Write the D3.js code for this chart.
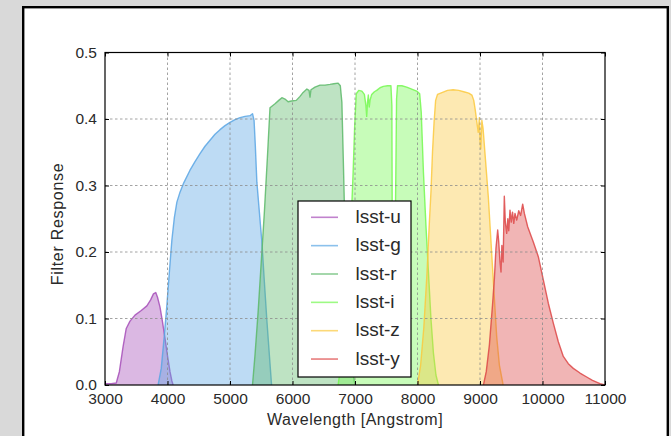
<!DOCTYPE html>
<html>
<head>
<meta charset="utf-8">
<script src="https://cdnjs.cloudflare.com/ajax/libs/d3/7.8.5/d3.min.js"></script>
<style>
    body { margin: 0; background: #d9d9d9; }
    svg { display: block; font-family: "Liberation Sans", Arial, sans-serif; }
</style>
</head>
<body>
<svg id="chart" width="671" height="436"></svg>
<script>
// Filter names, in legend order
const bandNames = ['lsst-u', 'lsst-g', 'lsst-r', 'lsst-i', 'lsst-z', 'lsst-y'];

// [wavelength (Angstrom), response]
const uBand = [
    [3000, 0.002], [3100, 0.002], [3180, 0.003], [3230, 0.02], [3290, 0.058], [3340, 0.085],
    [3400, 0.096], [3480, 0.105], [3580, 0.112], [3670, 0.119], [3730, 0.128], [3775, 0.137],
    [3812, 0.139], [3840, 0.132], [3880, 0.117], [3920, 0.095], [3960, 0.07], [4000, 0.044],
    [4040, 0.02], [4070, 0.006], [4090, 0]
];
const gBand = [
    [3850, 0], [3900, 0.025], [3950, 0.075], [3990, 0.12], [4030, 0.17], [4070, 0.218],
    [4110, 0.252], [4150, 0.275], [4200, 0.29], [4260, 0.304], [4360, 0.323], [4440, 0.336],
    [4520, 0.348], [4600, 0.359], [4680, 0.368], [4760, 0.377], [4840, 0.384], [4920, 0.39],
    [5000, 0.395], [5080, 0.399], [5160, 0.402], [5240, 0.404], [5320, 0.405], [5360, 0.408],
    [5385, 0.398], [5405, 0.36], [5430, 0.305], [5470, 0.26], [5510, 0.215], [5550, 0.155],
    [5590, 0.097], [5630, 0.045], [5665, 0]
];
const rBand = [
    [5360, 0], [5400, 0.045], [5450, 0.11], [5500, 0.185], [5550, 0.26], [5600, 0.345],
    [5640, 0.417], [5720, 0.423], [5780, 0.428], [5830, 0.432], [5880, 0.43], [5930, 0.426],
    [5980, 0.427], [6060, 0.428], [6120, 0.434], [6170, 0.44], [6230, 0.445], [6265, 0.443],
    [6280, 0.433], [6295, 0.444], [6360, 0.448], [6440, 0.451], [6520, 0.451], [6600, 0.452],
    [6660, 0.453], [6730, 0.454], [6765, 0.45], [6790, 0.425], [6815, 0.33], [6840, 0.23],
    [6870, 0.14], [6910, 0.07], [6950, 0.03], [6990, 0.005], [7010, 0]
];
const iBand = [
    [6730, 0], [6790, 0.04], [6850, 0.1], [6900, 0.17], [6940, 0.25], [6970, 0.32],
    [6995, 0.39], [7020, 0.438], [7060, 0.443], [7110, 0.442], [7150, 0.437], [7175, 0.42],
    [7187, 0.404], [7200, 0.425], [7213, 0.436], [7228, 0.418], [7240, 0.428], [7267, 0.437],
    [7310, 0.441], [7347, 0.443], [7400, 0.447], [7453, 0.449], [7520, 0.45], [7575, 0.45],
    [7590, 0.42], [7600, 0.12], [7630, 0.1], [7665, 0.43], [7680, 0.45], [7750, 0.45],
    [7827, 0.448], [7907, 0.445], [7987, 0.442], [8035, 0.438], [8060, 0.41], [8095, 0.32],
    [8135, 0.24], [8175, 0.17], [8215, 0.1], [8255, 0.048], [8295, 0.015], [8335, 0]
];
const zBand = [
    [8000, 0], [8050, 0.03], [8100, 0.085], [8150, 0.165], [8190, 0.245], [8215, 0.29],
    [8240, 0.35], [8265, 0.395], [8290, 0.428], [8320, 0.437], [8400, 0.44], [8480, 0.443],
    [8570, 0.444], [8660, 0.443], [8740, 0.441], [8820, 0.439], [8870, 0.436], [8900, 0.428],
    [8925, 0.413], [8950, 0.395], [8972, 0.38], [8990, 0.402], [9002, 0.365], [9012, 0.355],
    [9030, 0.398], [9050, 0.385], [9080, 0.348], [9133, 0.283], [9187, 0.198], [9230, 0.13],
    [9267, 0.073], [9310, 0.03], [9370, 0]
];
const yBand = [
    [9055, 0], [9100, 0.02], [9150, 0.06], [9200, 0.12], [9230, 0.16], [9255, 0.205],
    [9283, 0.233], [9300, 0.215], [9320, 0.185], [9336, 0.17], [9350, 0.21], [9370, 0.185],
    [9389, 0.284], [9405, 0.245], [9427, 0.228], [9445, 0.25], [9460, 0.232], [9480, 0.263],
    [9500, 0.245], [9520, 0.26], [9540, 0.243], [9560, 0.258], [9587, 0.248], [9620, 0.262],
    [9650, 0.255], [9683, 0.272], [9710, 0.258], [9763, 0.238], [9810, 0.226], [9853, 0.215],
    [9933, 0.193], [10013, 0.158], [10093, 0.123], [10173, 0.093], [10253, 0.065],
    [10333, 0.043], [10413, 0.032], [10493, 0.025], [10600, 0.018], [10707, 0.012],
    [10800, 0.007], [10920, 0.002], [11000, 0]
];
const bandData = [uBand, gBand, rBand, iBand, zBand, yBand];

// Axis ticks
const xTicks = [3000, 4000, 5000, 6000, 7000, 8000, 9000, 10000, 11000];
const yTicks = [0.0, 0.1, 0.2, 0.3, 0.4, 0.5];

// Styles
const bandColors = ['#a64db8', '#5aa6e4', '#5cb868', '#74f850', '#fbc93e', '#dd4646'];

function render() {
    const svg = d3.select('#chart');
    const plot = { left: 105, right: 605, top: 52.5, bottom: 385 };

    const x = d3.scaleLinear().domain([3000, 11000]).range([plot.left, plot.right]);
    const y = d3.scaleLinear().domain([0, 0.5]).range([plot.bottom, plot.top]);

    // Figure frame
    svg.append('rect')
        .attr('x', 0).attr('y', 0).attr('width', 671).attr('height', 436)
        .attr('fill', '#d9d9d9');
    svg.append('rect')
        .attr('x', 23.2).attr('y', 7.2).attr('width', 644.6).attr('height', 440)
        .attr('fill', '#ffffff')
        .attr('stroke', '#000')
        .attr('stroke-width', 2.4);

    svg.append('defs').append('clipPath').attr('id', 'plot-clip')
        .append('rect')
        .attr('x', plot.left).attr('y', plot.top)
        .attr('width', plot.right - plot.left).attr('height', plot.bottom - plot.top);

    const area = d3.area()
        .x(d => x(d[0]))
        .y0(y(0))
        .y1(d => y(d[1]));
    const line = d3.line()
        .x(d => x(d[0]))
        .y(d => y(d[1]));

    const bands = svg.append('g').attr('clip-path', 'url(#plot-clip)');
    bandData.forEach((data, i) => {
        bands.append('path')
            .datum(data)
            .attr('d', area)
            .attr('fill', bandColors[i])
            .attr('fill-opacity', 0.4);
        bands.append('path')
            .datum(data)
            .attr('d', line)
            .attr('fill', 'none')
            .attr('stroke', bandColors[i])
            .attr('stroke-opacity', 0.85)
            .attr('stroke-width', 1.4)
            .attr('stroke-linejoin', 'round');
    });

    // Grid (drawn over the fills)
    const grid = svg.append('g')
        .attr('stroke', '#8c8c8c')
        .attr('stroke-width', 0.8)
        .attr('stroke-dasharray', '2.5,2.5');
    grid.selectAll('.gx')
        .data(xTicks.slice(1, -1))
        .enter().append('line')
        .attr('x1', d => x(d)).attr('x2', d => x(d))
        .attr('y1', plot.top).attr('y2', plot.bottom);
    grid.selectAll('.gy')
        .data(yTicks.slice(1, -1))
        .enter().append('line')
        .attr('x1', plot.left).attr('x2', plot.right)
        .attr('y1', d => y(d)).attr('y2', d => y(d));

    // Axes with inward ticks
    const tickFont = g => g.selectAll('text')
        .attr('font-size', '15.5px')
        .attr('fill', '#2a2a2a')
        .attr('font-family', '"Liberation Sans", Arial, sans-serif');

    svg.append('g')
        .attr('transform', `translate(0,${plot.bottom})`)
        .call(d3.axisBottom(x).tickValues(xTicks).tickFormat(d3.format('d'))
            .tickSizeInner(-4).tickSizeOuter(0).tickPadding(8))
        .call(g => g.select('.domain').remove())
        .call(tickFont);
    svg.append('g')
        .attr('transform', `translate(${plot.left},0)`)
        .call(d3.axisLeft(y).tickValues(yTicks).tickFormat(d3.format('.1f'))
            .tickSizeInner(-4).tickSizeOuter(0).tickPadding(8))
        .call(g => g.select('.domain').remove())
        .call(tickFont);
    svg.append('g')
        .attr('transform', `translate(0,${plot.top})`)
        .call(d3.axisTop(x).tickValues(xTicks).tickFormat('').tickSizeInner(-4).tickSizeOuter(0))
        .call(g => g.select('.domain').remove());
    svg.append('g')
        .attr('transform', `translate(${plot.right},0)`)
        .call(d3.axisRight(y).tickValues(yTicks).tickFormat('').tickSizeInner(-4).tickSizeOuter(0))
        .call(g => g.select('.domain').remove());

    svg.append('rect')
        .attr('x', plot.left).attr('y', plot.top)
        .attr('width', plot.right - plot.left).attr('height', plot.bottom - plot.top)
        .attr('fill', 'none')
        .attr('stroke', '#000')
        .attr('stroke-width', 1.2);

    // Axis labels
    svg.append('text')
        .attr('x', (plot.left + plot.right) / 2)
        .attr('y', 425)
        .attr('text-anchor', 'middle')
        .attr('font-size', '16px')
        .attr('letter-spacing', '0.5px')
        .attr('fill', '#2a2a2a')
        .text('Wavelength [Angstrom]');

    svg.append('text')
        .attr('transform', 'rotate(-90)')
        .attr('x', -224)
        .attr('y', 63)
        .attr('text-anchor', 'middle')
        .attr('font-size', '16px')
        .attr('letter-spacing', '0.7px')
        .attr('fill', '#2a2a2a')
        .text('Filter Response');

    // Legend
    const legend = svg.append('g');
    legend.append('rect')
        .attr('x', 298).attr('y', 201)
        .attr('width', 113).attr('height', 176)
        .attr('fill', '#fff')
        .attr('stroke', '#000')
        .attr('stroke-width', 1.2);

    bandNames.forEach((name, i) => {
        const rowY = 217.3 + i * 28.35;
        legend.append('line')
            .attr('x1', 311).attr('x2', 338)
            .attr('y1', rowY).attr('y2', rowY)
            .attr('stroke', bandColors[i])
            .attr('stroke-opacity', 0.7)
            .attr('stroke-width', 1.6);
        legend.append('text')
            .attr('x', 355.5)
            .attr('y', rowY + 5.5)
            .attr('font-size', '19px')
            .attr('fill', '#2a2a2a')
            .text(name);
    });
}

render();
</script>
</body>
</html>
